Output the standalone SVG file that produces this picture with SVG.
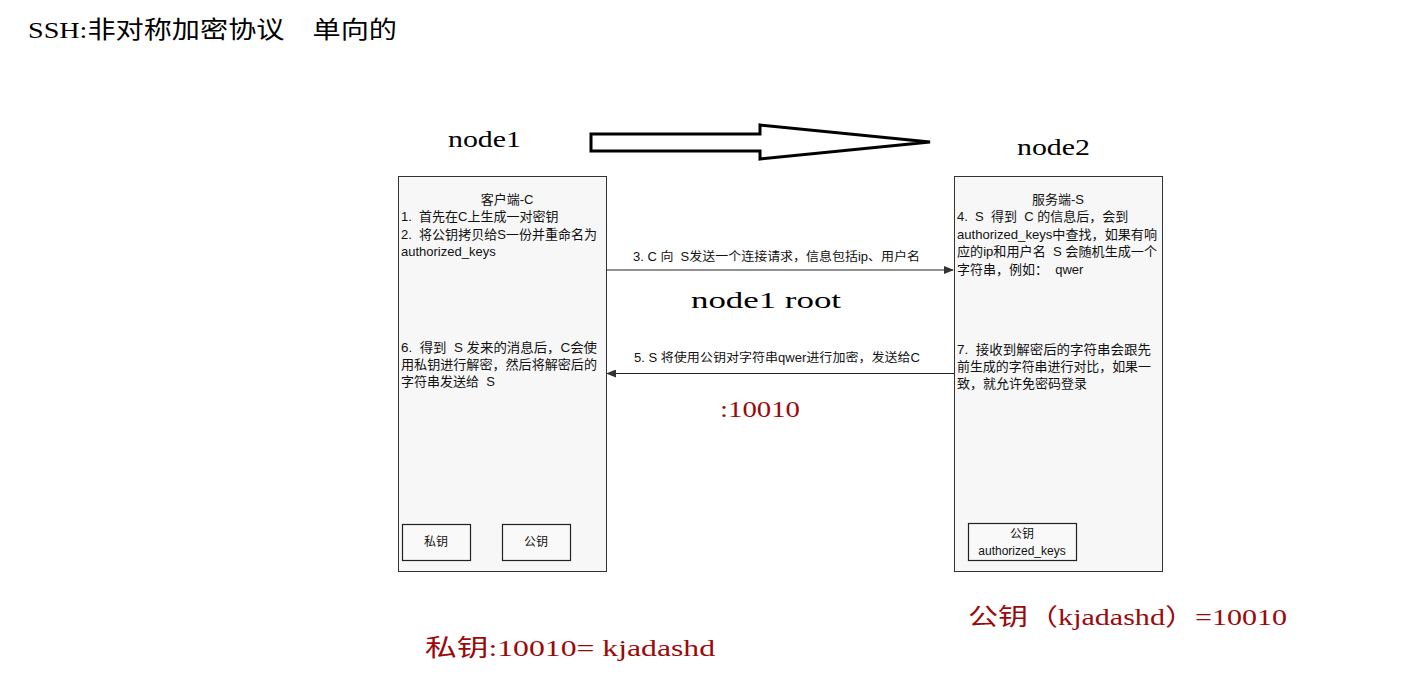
<svg xmlns="http://www.w3.org/2000/svg" width="1424" height="685" viewBox="0 0 1424 685" xml:space="preserve">
<style>
text{white-space:pre}
.serif{font-family:"Liberation Serif","Noto Sans CJK SC",serif;fill:#000}
.red{font-family:"Liberation Serif","Noto Sans CJK SC",serif;fill:#9b0a0a;font-size:24px}
.t{font-family:"Liberation Sans","Noto Sans CJK SC",sans-serif;font-size:13px;fill:#111}
.s{font-size:12px}
.lab{font-family:"Liberation Sans","Noto Sans CJK SC",sans-serif;font-size:12px;fill:#111}
.box{fill:#f7f7f7;stroke:#333;stroke-width:1}
.kbox{fill:#f9f9f9;stroke:#222;stroke-width:1.2}
.conn{stroke:#222;stroke-width:1;fill:none}
</style>
<defs>
<marker id="ah" markerWidth="10" markerHeight="8" refX="9" refY="4" orient="auto" markerUnits="userSpaceOnUse">
<path d="M0,0 L10,4 L0,8 Z" fill="#333"/>
</marker>
</defs>
<rect width="1424" height="685" fill="#fff"/>
<text class="serif" x="28" y="38" font-size="24" textLength="369" lengthAdjust="spacingAndGlyphs">SSH:非对称加密协议　单向的</text>

<g id="big-arrow">
<path d="M591,134 L760,134 L760,125 L930,142 L760,159 L760,151 L591,151 Z" fill="#fff" stroke="#000" stroke-width="3" stroke-linejoin="miter"/>
</g>

<g id="node1-label"><text class="serif" x="448" y="147" font-size="24" textLength="73" lengthAdjust="spacingAndGlyphs">node1</text></g>
<g id="node2-label"><text class="serif" x="1017" y="155" font-size="24" textLength="73" lengthAdjust="spacingAndGlyphs">node2</text></g>

<g id="client">
<rect class="box" x="398.5" y="176.5" width="208" height="395"/>
<text class="t" x="507" y="204" text-anchor="middle">客户端-C</text>
<text class="t" x="401" y="221">1.  首先在C上生成一对密钥</text>
<text class="t" x="401" y="239" textLength="196" lengthAdjust="spacingAndGlyphs">2.  将公钥拷贝给S一份并重命名为</text>
<text class="t" x="401" y="256">authorized_keys</text>
<text class="t" x="401" y="352" textLength="196" lengthAdjust="spacingAndGlyphs">6.  得到  S 发来的消息后，C会使</text>
<text class="t" x="401" y="369" textLength="196" lengthAdjust="spacingAndGlyphs">用私钥进行解密，然后将解密后的</text>
<text class="t" x="401" y="386">字符串发送给  S</text>
<g id="client-private">
<rect class="kbox" x="402.5" y="524.5" width="68" height="36"/>
<text class="t s" x="436" y="546" text-anchor="middle">私钥</text>
</g>
<g id="client-public">
<rect class="kbox" x="502.5" y="524.5" width="68" height="36"/>
<text class="t s" x="536" y="546" text-anchor="middle">公钥</text>
</g>
</g>

<g id="server">
<rect class="box" x="954.5" y="176.5" width="208" height="395"/>
<text class="t" x="1058" y="204" text-anchor="middle">服务端-S</text>
<text class="t" x="957" y="221">4.  S  得到  C 的信息后，会到</text>
<text class="t" x="957" y="239" textLength="200" lengthAdjust="spacingAndGlyphs">authorized_keys中查找，如果有响</text>
<text class="t" x="957" y="256" textLength="200" lengthAdjust="spacingAndGlyphs">应的ip和用户名  S 会随机生成一个</text>
<text class="t" x="957" y="274">字符串，例如：  qwer</text>
<text class="t" x="957" y="354" textLength="194" lengthAdjust="spacingAndGlyphs">7.  接收到解密后的字符串会跟先</text>
<text class="t" x="957" y="371" textLength="194" lengthAdjust="spacingAndGlyphs">前生成的字符串进行对比，如果一</text>
<text class="t" x="957" y="388">致，就允许免密码登录</text>
<g id="server-public">
<rect class="kbox" x="968.5" y="523.5" width="108" height="37"/>
<text class="t s" x="1022" y="538" text-anchor="middle">公钥</text>
<text class="t s" x="1022" y="555" text-anchor="middle">authorized_keys</text>
</g>
</g>

<g id="connectors">
<line class="conn" x1="606" y1="270" x2="953" y2="270" marker-end="url(#ah)"/>
<text class="lab" x="633" y="261" textLength="287" lengthAdjust="spacingAndGlyphs">3. C 向  S发送一个连接请求，信息包括ip、用户名</text>
<line class="conn" x1="954" y1="373.5" x2="607" y2="373.5" marker-end="url(#ah)"/>
<text class="lab" x="634" y="362" textLength="286" lengthAdjust="spacingAndGlyphs">5. S 将使用公钥对字符串qwer进行加密，发送给C</text>
</g>

<g id="annotations">
<text class="serif" x="691" y="308" font-size="24" textLength="150" lengthAdjust="spacingAndGlyphs">node1 root</text>
<text class="red" x="720" y="417" textLength="80" lengthAdjust="spacingAndGlyphs">:10010</text>
<text class="red" x="425" y="656" textLength="290" lengthAdjust="spacingAndGlyphs">私钥:10010= kjadashd</text>
<text class="red" x="968" y="625" textLength="319" lengthAdjust="spacingAndGlyphs">公钥（kjadashd）=10010</text>
</g>
</svg>
